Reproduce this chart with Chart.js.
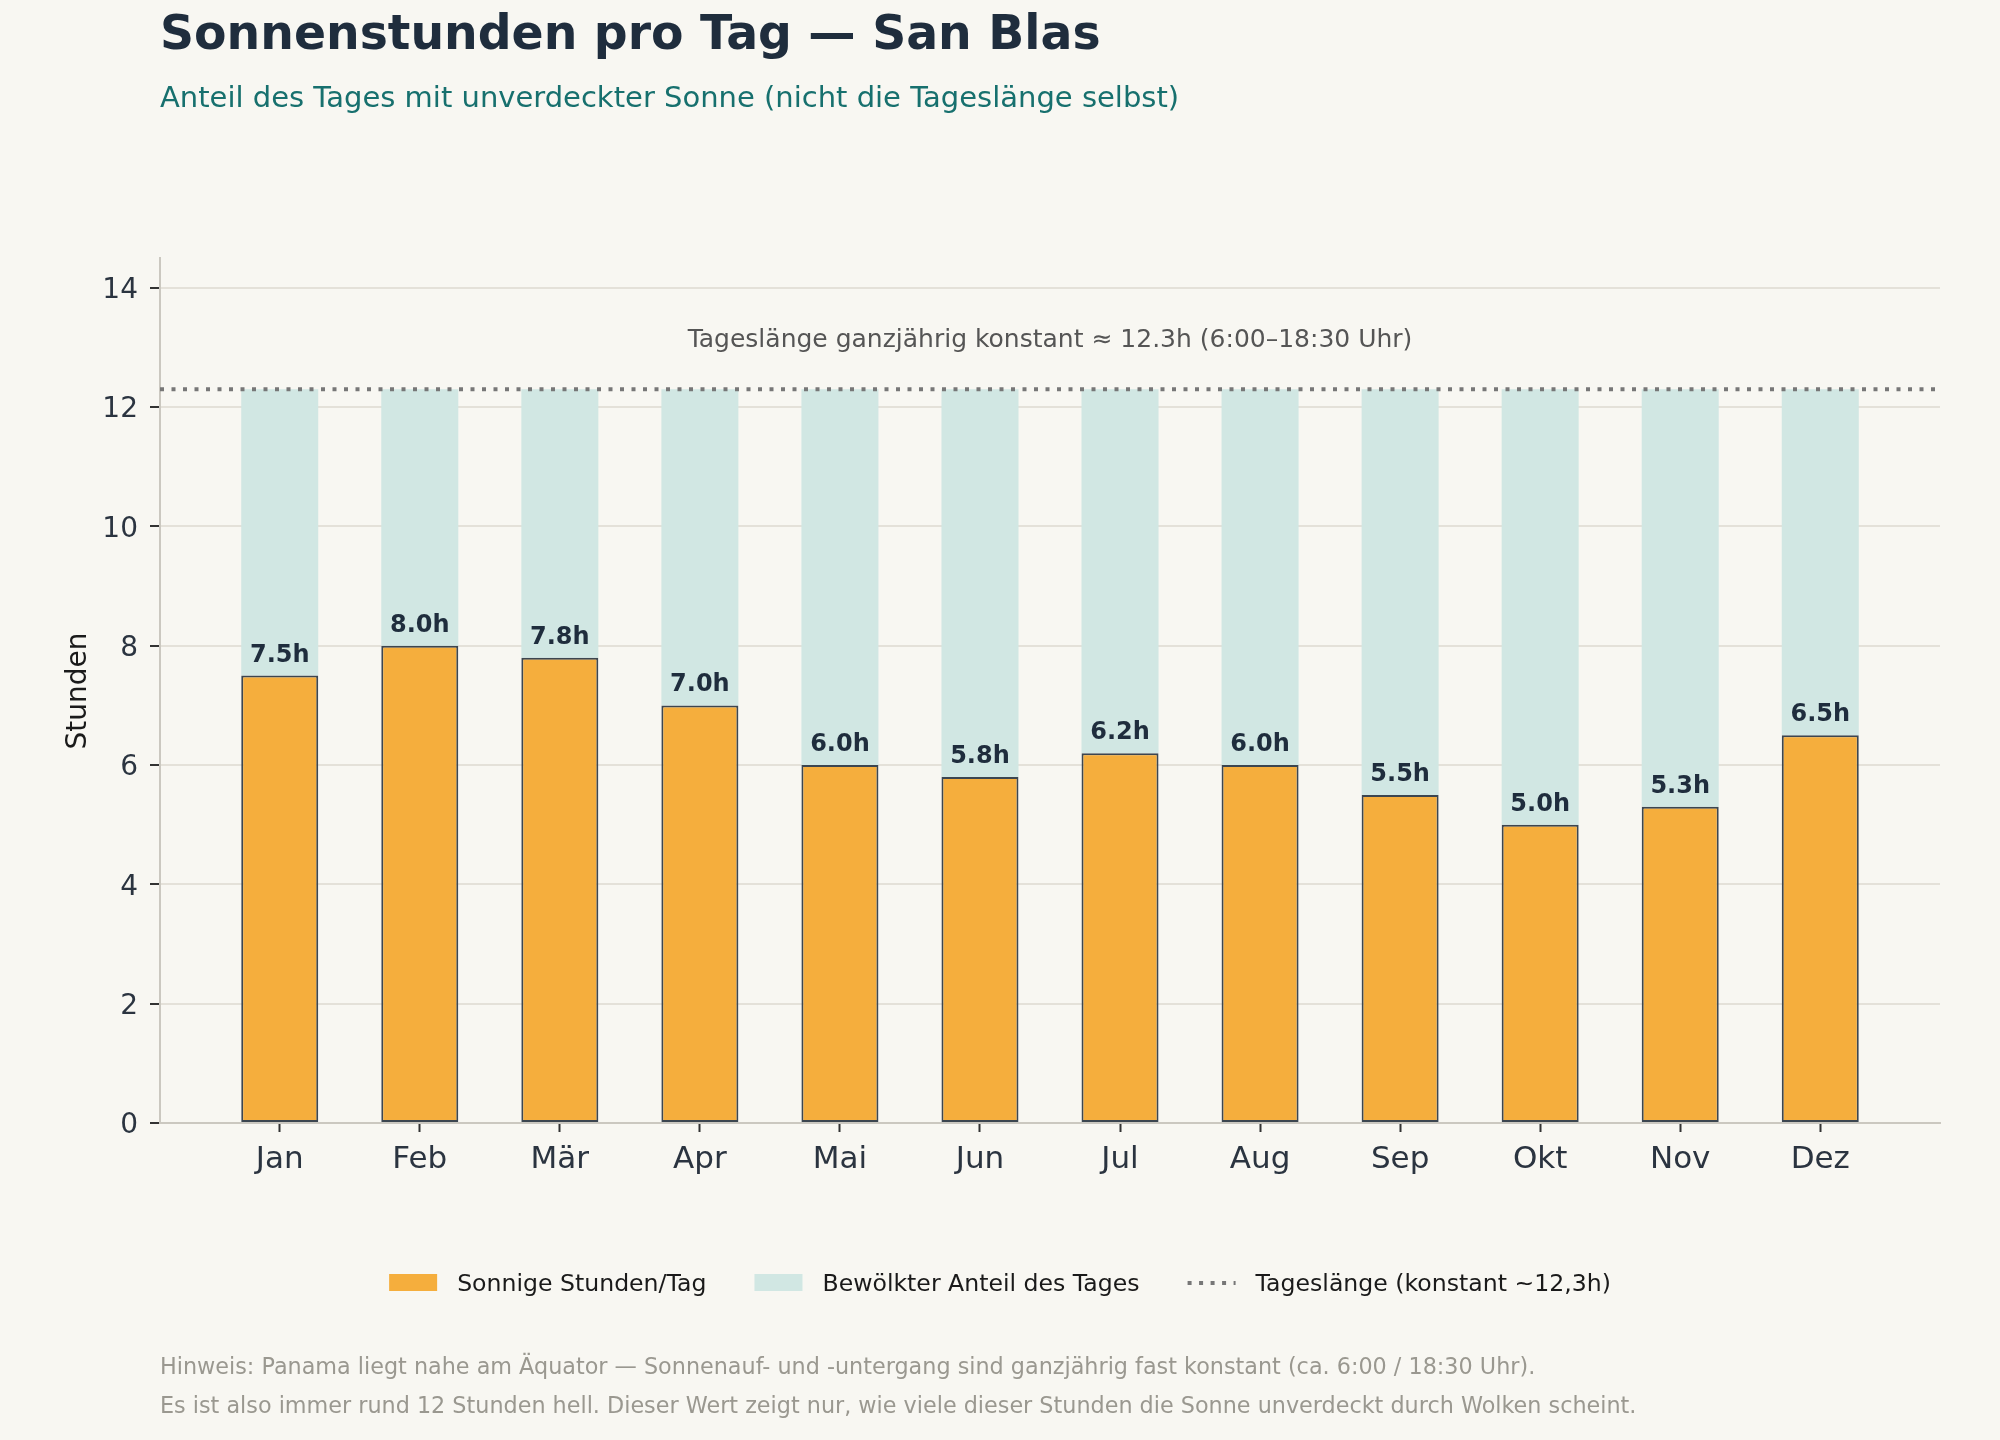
<!DOCTYPE html>
<html>
<head>
<meta charset="utf-8">
<script src="https://cdn.jsdelivr.net/npm/chart.js@4.4.1/dist/chart.umd.min.js"></script>
<style>
  html, body { margin: 0; padding: 0; background: #f8f7f2; }
  canvas { display: block; }
</style>
</head>
<body>
<canvas id="c" width="2000" height="1440"></canvas>
<script>
// ---- data ----
const months = ['Jan', 'Feb', 'Mär', 'Apr', 'Mai', 'Jun', 'Jul', 'Aug', 'Sep', 'Okt', 'Nov', 'Dez'];
const sunnyHours = [7.5, 8.0, 7.8, 7.0, 6.0, 5.8, 6.2, 6.0, 5.5, 5.0, 5.3, 6.5];
const dayLength = 12.3;
const yTicks = [0, 2, 4, 6, 8, 10, 12, 14];
const titleText = 'Sonnenstunden pro Tag — San Blas';
const subtitleText = 'Anteil des Tages mit unverdeckter Sonne (nicht die Tageslänge selbst)';
const annotationText = 'Tageslänge ganzjährig konstant ≈ 12.3h (6:00–18:30 Uhr)';
const legendLabels = ['Sonnige Stunden/Tag', 'Bewölkter Anteil des Tages', 'Tageslänge (konstant ~12,3h)'];
const footnotes = [
  'Hinweis: Panama liegt nahe am Äquator — Sonnenauf- und -untergang sind ganzjährig fast konstant (ca. 6:00 / 18:30 Uhr).',
  'Es ist also immer rund 12 Stunden hell. Dieser Wert zeigt nur, wie viele dieser Stunden die Sonne unverdeckt durch Wolken scheint.'
];
const yAxisTitle = 'Stunden';

// ---- styling ----
const FONT = "'DejaVu Sans', sans-serif";
const BG = '#f8f7f2';
const ORANGE = '#f5ae3d';
const CLOUD = '#d1e7e3';
const DARK = '#1f2d3d';
const xMin = -0.855, xMax = 11.855, yMax = 14.5, annotationY = 13.0;

const sunnyPts = sunnyHours.map((v, i) => ({ x: i, y: v }));
const cloudPts = sunnyHours.map((v, i) => ({ x: i, y: +(dayLength - v).toFixed(2) }));
const linePts = [{ x: xMin, y: dayLength }, { x: xMax, y: dayLength }];

const decor = {
  id: 'decor',
  beforeDraw(chart) {
    const ctx = chart.ctx;
    ctx.save();
    ctx.fillStyle = BG;
    ctx.fillRect(0, 0, chart.width, chart.height);
    ctx.restore();
  },
  afterDatasetsDraw(chart) {
    const ctx = chart.ctx;
    const meta = chart.getDatasetMeta(1);
    ctx.save();
    ctx.font = 'bold 24px ' + FONT;
    ctx.fillStyle = DARK;
    ctx.textAlign = 'center';
    ctx.textBaseline = 'alphabetic';
    meta.data.forEach((el, i) => {
      ctx.fillText(sunnyHours[i].toFixed(1) + 'h', el.x, el.y - 14);
    });
    // annotation
    const xs = chart.scales.x, ys = chart.scales.y;
    ctx.font = '25px ' + FONT;
    ctx.fillStyle = '#555555';
    ctx.fillText(annotationText, (xs.left + xs.right) / 2, ys.getPixelForValue(annotationY));
    ctx.restore();
  },
  afterDraw(chart) {
    const ctx = chart.ctx;
    ctx.save();
    ctx.textAlign = 'left';
    ctx.textBaseline = 'alphabetic';
    // title
    ctx.font = 'bold 47.3px ' + FONT;
    ctx.fillStyle = DARK;
    ctx.fillText(titleText, 160, 49);
    ctx.font = '29px ' + FONT;
    ctx.fillStyle = '#17706e';
    ctx.fillText(subtitleText, 160, 107);
    // y axis title
    ctx.save();
    ctx.translate(79, 691);
    ctx.rotate(-Math.PI / 2);
    ctx.textAlign = 'center';
    ctx.textBaseline = 'middle';
    ctx.font = '28px ' + FONT;
    ctx.fillStyle = '#1a1a1a';
    ctx.fillText(yAxisTitle, 0, 0);
    ctx.restore();
    // legend
    ctx.font = '23.6px ' + FONT;
    const boxW = 48, gapT = 20, gapI = 48;
    const widths = legendLabels.map(t => ctx.measureText(t).width);
    const total = widths.reduce((a, w) => a + boxW + gapT + w, 0) + gapI * (legendLabels.length - 1);
    let x = 1000 - total / 2;
    const yb = 1291;
    legendLabels.forEach((t, i) => {
      if (i === 0) { ctx.fillStyle = ORANGE; ctx.fillRect(x, 1274, boxW, 17); }
      else if (i === 1) { ctx.fillStyle = CLOUD; ctx.fillRect(x, 1274, boxW, 17); }
      else {
        ctx.save();
        ctx.strokeStyle = '#777777';
        ctx.lineWidth = 4;
        ctx.setLineDash([4, 7.5]);
        ctx.beginPath();
        ctx.moveTo(x, 1283); ctx.lineTo(x + boxW, 1283);
        ctx.stroke();
        ctx.restore();
      }
      ctx.fillStyle = '#1a1a1a';
      ctx.fillText(t, x + boxW + gapT, yb);
      x += boxW + gapT + widths[i] + gapI;
    });
    // footnotes
    ctx.font = '22.3px ' + FONT;
    ctx.fillStyle = '#9a9890';
    ctx.fillText(footnotes[0], 160, 1374);
    ctx.fillText(footnotes[1], 160, 1413);
    ctx.restore();
  }
};

new Chart(document.getElementById('c'), {
  data: {
    datasets: [
      {
        type: 'line', label: legendLabels[2], data: linePts, order: 0,
        borderColor: '#777777', borderWidth: 4, borderDash: [4, 7.5], borderCapStyle: 'butt',
        pointRadius: 0, fill: false, stack: 'line'
      },
      {
        type: 'bar', label: legendLabels[0], data: sunnyPts, order: 1, stack: 's',
        backgroundColor: ORANGE, borderColor: '#3c4650', borderWidth: 2, borderSkipped: false,
        barPercentage: 0.55, categoryPercentage: 1
      },
      {
        type: 'bar', label: legendLabels[1], data: cloudPts, order: 2, stack: 's',
        backgroundColor: CLOUD, borderWidth: 0,
        barPercentage: 0.55, categoryPercentage: 1
      }
    ]
  },
  options: {
    responsive: false,
    devicePixelRatio: 1,
    animation: false,
    layout: { padding: { top: 258, right: 60, left: 0, bottom: 0 } },
    plugins: { legend: { display: false }, tooltip: { enabled: false }, title: { display: false } },
    scales: {
      x: {
        type: 'linear', min: xMin, max: xMax, stacked: true, offset: false,
        afterBuildTicks(scale) { scale.ticks = months.map((m, i) => ({ value: i })); },
        afterFit(scale) { scale.height = 317; },
        ticks: {
          callback: (v) => months[v] ?? '',
          font: { family: FONT, size: 31 }, color: '#2b3440', padding: 9, maxRotation: 0, autoSkip: false
        },
        grid: { offset: false, drawOnChartArea: false, tickLength: 9, tickColor: '#333333', tickWidth: 2 },
        border: { color: '#cbc8c0', width: 2 }
      },
      y: {
        type: 'linear', min: 0, max: yMax, stacked: true,
        afterBuildTicks(scale) { scale.ticks = yTicks.map(v => ({ value: v })); },
        afterFit(scale) { scale.width = 160; },
        ticks: { font: { family: FONT, size: 28 }, color: '#2b3440', padding: 12, labelOffset: 3 },
        grid: { color: '#e4e1d9', lineWidth: 2, tickLength: 10, tickColor: '#333333', tickWidth: 2 },
        border: { color: '#cbc8c0', width: 2 }
      }
    }
  },
  plugins: [decor]
});
</script>
</body>
</html>
